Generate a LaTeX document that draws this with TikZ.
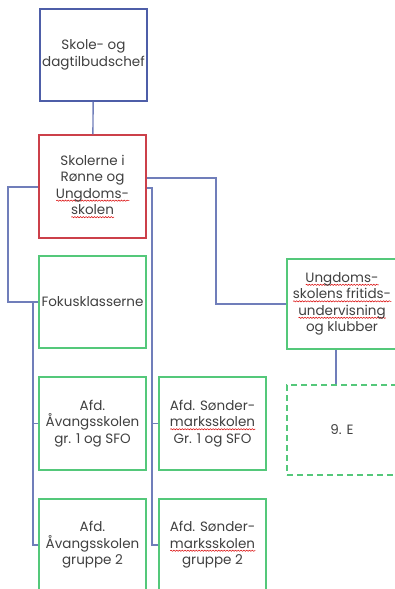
\documentclass[tikz,border=0pt]{standalone}
\usepackage{fontspec}
\setmainfont{Poppins}
\usepackage{tikz}
\usetikzlibrary{positioning,decorations.pathmorphing}

\definecolor{chefblue}{RGB}{78,94,168}
\definecolor{linkblue}{RGB}{112,126,186}
\definecolor{skolered}{RGB}{204,64,74}
\definecolor{afdgreen}{RGB}{84,200,122}
\definecolor{txtgray}{RGB}{64,64,64}

\newsavebox\errbox
\newcommand\spellerr[1]{\sbox\errbox{#1}\leavevmode\rlap{\tikz[baseline=0pt]\draw[red!85!black,line width=0.5pt,decorate,decoration={snake,amplitude=0.6pt,segment length=2.8pt}] (0pt,-2.4pt) -- (\wd\errbox,-2.4pt);}\usebox\errbox}

\tikzset{
  unit/.style={rectangle, draw=afdgreen, line width=1.5pt, minimum width=107pt,
    minimum height=92pt, align=center, text=txtgray, inner sep=1pt,
    font=\fontsize{13.5}{16.5}\selectfont},
  link/.style={draw=linkblue, line width=1.4pt}
}

\begin{document}
\begin{tikzpicture}[x=1pt, y=-1pt]
\useasboundingbox (0,0) rectangle (394,589);
\node[unit, draw=chefblue] (chef) at (93.5,55) {Skole- og\\ dagtilbudschef};
\node[unit, draw=skolered, minimum height=103pt] (skoler) at (92.5,186.5)
  {Skolerne i\\ Rønne og\\ \spellerr{Ungdoms-}\\ \spellerr{skolen}};
\node[unit] (fokus) at (92.5,302) {Fokusklasserne};
\node[unit, minimum height=93pt] (aav1) at (92.5,423.5) {Afd.\\ Åvangsskolen\\ gr. 1 og SFO};
\node[unit, minimum height=93pt] (sond1) at (212.5,423.5) {Afd. Sønder-\\ \spellerr{marksskolen}\\ Gr. 1 og SFO};
\node[unit] (aav2) at (92.5,545) {Afd.\\ Åvangsskolen\\ gruppe 2};
\node[unit] (sond2) at (212.5,545) {Afd. Sønder-\\ \spellerr{marksskolen}\\ gruppe 2};
\node[unit, minimum width=110pt, minimum height=90pt] (ungd) at (342,304)
  {\spellerr{Ungdoms-}\\ \spellerr{skolens fritids-}\\ \spellerr{undervisning}\\ og klubber};
\node[unit, minimum width=110pt, minimum height=90pt, dash pattern=on 6pt off 4pt] (ninee) at (342,430) {9. E};

\coordinate (lk) at (8,187);
\coordinate (lt) at (33,302);
\coordinate (mt) at (152,188);
\coordinate (rk) at (216,178);
\draw[link] (chef) -- (skoler);
\draw[link] (skoler.west |- lk) -- (lk) |- (fokus.west);
\draw[link] (lt) |- (aav1.west);
\draw[link] (lt) |- (aav2.west);
\draw[link] (skoler.east |- mt) -- (mt) |- (sond1.west);
\draw[link] (mt) |- (sond2.west);
\draw[link] (skoler.east |- rk) -- (rk) |- (ungd.west);
\draw[link] ([xshift=-6pt]ungd.south) -- ([xshift=-6pt]ninee.north);
\end{tikzpicture}
\end{document}
